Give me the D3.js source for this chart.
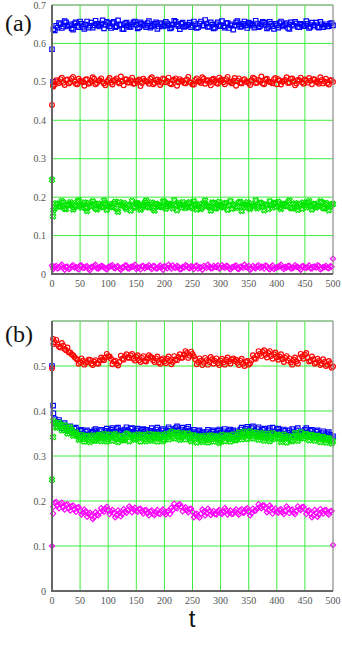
<!DOCTYPE html>
<html>
<head>
<meta charset="utf-8">
<script src="https://cdn.jsdelivr.net/npm/d3@7"></script>
<style>
  html, body { margin: 0; padding: 0; background: #fff; }
  svg { display: block; }
</style>
</head>
<body>
<svg id="chart" width="342" height="654"></svg>
<script>
// sampling times: t = 0, 2, then every 5 steps; "mid" samples sit half-way (2.5, 7.5, ...)
var times = [0, 2].concat(d3.range(5, 505, 5));
var timesMid = d3.range(2.5, 500, 5);

var xTicks = [0, 50, 100, 150, 200, 250, 300, 350, 400, 450, 500];
var yTicksA = [0, 0.1, 0.2, 0.3, 0.4, 0.5, 0.6, 0.7];
var yTicksB = [0, 0.1, 0.2, 0.3, 0.4, 0.5];

// ---- panel (a) ----
var aBlue = [0.585, 0.500,
  0.634, 0.641, 0.650, 0.644, 0.655, 0.647, 0.639, 0.652, 0.646, 0.657,
  0.643, 0.649, 0.641, 0.654, 0.647, 0.651, 0.644, 0.660, 0.648, 0.653,
  0.640, 0.656, 0.645, 0.650, 0.638, 0.652, 0.647, 0.643, 0.655, 0.649,
  0.642, 0.651, 0.646, 0.653, 0.641, 0.648, 0.655, 0.644, 0.650, 0.647,
  0.652, 0.639, 0.649, 0.656, 0.645, 0.651, 0.643, 0.648, 0.654, 0.646,
  0.650, 0.642, 0.657, 0.647, 0.652, 0.644, 0.649, 0.641, 0.655, 0.648,
  0.645, 0.653, 0.640, 0.650, 0.646, 0.658, 0.643, 0.651, 0.647, 0.654,
  0.649, 0.641, 0.652, 0.645, 0.656, 0.648, 0.643, 0.651, 0.638, 0.647,
  0.653, 0.644, 0.650, 0.640, 0.655, 0.646, 0.652, 0.642, 0.649, 0.645,
  0.651, 0.643, 0.648, 0.654, 0.641, 0.650, 0.646, 0.644, 0.652, 0.647];
var aBlueMid = [
  0.637, 0.646, 0.653, 0.640, 0.658, 0.644, 0.650, 0.636, 0.655, 0.642,
  0.651, 0.638, 0.657, 0.646, 0.641, 0.659, 0.647, 0.652, 0.639, 0.656,
  0.645, 0.653, 0.642, 0.660, 0.648, 0.637, 0.654, 0.643, 0.650, 0.657,
  0.639, 0.655, 0.648, 0.642, 0.658, 0.645, 0.651, 0.638, 0.653, 0.644,
  0.656, 0.647, 0.641, 0.659, 0.650, 0.637, 0.654, 0.645, 0.649, 0.642,
  0.657, 0.640, 0.652, 0.646, 0.661, 0.643, 0.655, 0.639, 0.650, 0.645,
  0.658, 0.641, 0.653, 0.647, 0.636, 0.655, 0.649, 0.644, 0.657, 0.640,
  0.652, 0.646, 0.659, 0.642, 0.650, 0.654, 0.639, 0.656, 0.645, 0.651,
  0.641, 0.657, 0.647, 0.653, 0.638, 0.649, 0.656, 0.643, 0.651, 0.645,
  0.658, 0.640, 0.654, 0.647, 0.643, 0.656, 0.642, 0.650, 0.645, 0.653];
var aRed = [0.440, 0.490,
  0.493, 0.500, 0.507, 0.498, 0.505, 0.496, 0.509, 0.501, 0.494, 0.503,
  0.499, 0.506, 0.495, 0.502, 0.508, 0.497, 0.504, 0.500, 0.491, 0.505,
  0.498, 0.503, 0.509, 0.496, 0.501, 0.507, 0.499, 0.504, 0.495, 0.502,
  0.506, 0.497, 0.503, 0.500, 0.508, 0.494, 0.505, 0.501, 0.498, 0.507,
  0.502, 0.496, 0.504, 0.509, 0.499, 0.503, 0.497, 0.506, 0.500, 0.493,
  0.505, 0.501, 0.497, 0.508, 0.503, 0.498, 0.506, 0.502, 0.495, 0.504,
  0.499, 0.507, 0.501, 0.496, 0.510, 0.503, 0.498, 0.505, 0.500, 0.497,
  0.504, 0.509, 0.498, 0.502, 0.496, 0.506, 0.501, 0.499, 0.507, 0.494,
  0.503, 0.500, 0.505, 0.497, 0.508, 0.502, 0.496, 0.504, 0.499, 0.506,
  0.498, 0.503, 0.507, 0.500, 0.495, 0.505, 0.501, 0.497, 0.504, 0.500];
var aRedMid = [
  0.488, 0.504, 0.497, 0.511, 0.492, 0.506, 0.499, 0.513, 0.495, 0.508,
  0.501, 0.490, 0.507, 0.497, 0.512, 0.494, 0.503, 0.509, 0.496, 0.500,
  0.510, 0.493, 0.505, 0.499, 0.514, 0.491, 0.506, 0.498, 0.511, 0.496,
  0.503, 0.489, 0.508, 0.501, 0.495, 0.512, 0.497, 0.506, 0.492, 0.509,
  0.499, 0.511, 0.494, 0.505, 0.490, 0.507, 0.502, 0.496, 0.513, 0.498,
  0.493, 0.509, 0.500, 0.512, 0.495, 0.504, 0.491, 0.508, 0.497, 0.511,
  0.506, 0.494, 0.513, 0.499, 0.503, 0.490, 0.509, 0.496, 0.507, 0.501,
  0.492, 0.511, 0.497, 0.505, 0.514, 0.494, 0.508, 0.500, 0.496, 0.510,
  0.507, 0.493, 0.502, 0.512, 0.498, 0.509, 0.491, 0.505, 0.511, 0.495,
  0.503, 0.510, 0.494, 0.506, 0.499, 0.512, 0.496, 0.508, 0.493, 0.504];
var aGreen = [0.245, 0.150,
  0.172, 0.181, 0.176, 0.186, 0.169, 0.179, 0.183, 0.174, 0.188, 0.177,
  0.180, 0.171, 0.185, 0.176, 0.182, 0.168, 0.179, 0.174, 0.184, 0.177,
  0.175, 0.183, 0.170, 0.187, 0.178, 0.173, 0.181, 0.165, 0.176, 0.184,
  0.179, 0.172, 0.186, 0.175, 0.181, 0.170, 0.183, 0.177, 0.174, 0.188,
  0.176, 0.182, 0.171, 0.179, 0.185, 0.173, 0.180, 0.175, 0.187, 0.172,
  0.181, 0.176, 0.169, 0.184, 0.178, 0.174, 0.186, 0.171, 0.180, 0.177,
  0.173, 0.185, 0.179, 0.170, 0.182, 0.176, 0.188, 0.174, 0.180, 0.172,
  0.183, 0.177, 0.171, 0.186, 0.175, 0.181, 0.169, 0.179, 0.184, 0.176,
  0.174, 0.182, 0.178, 0.187, 0.172, 0.180, 0.175, 0.183, 0.170, 0.179,
  0.185, 0.176, 0.181, 0.173, 0.178, 0.186, 0.171, 0.180, 0.175, 0.182];
var aGreenMid = [
  0.166, 0.184, 0.175, 0.190, 0.170, 0.181, 0.187, 0.168, 0.178, 0.192,
  0.173, 0.186, 0.164, 0.179, 0.189, 0.171, 0.183, 0.176, 0.191, 0.167,
  0.182, 0.174, 0.188, 0.162, 0.180, 0.185, 0.169, 0.177, 0.190, 0.172,
  0.184, 0.167, 0.179, 0.191, 0.173, 0.186, 0.165, 0.181, 0.176, 0.189,
  0.170, 0.183, 0.178, 0.192, 0.166, 0.180, 0.187, 0.172, 0.184, 0.175,
  0.189, 0.168, 0.182, 0.174, 0.191, 0.177, 0.165, 0.185, 0.171, 0.188,
  0.176, 0.183, 0.167, 0.190, 0.179, 0.172, 0.186, 0.164, 0.181, 0.187,
  0.170, 0.178, 0.192, 0.175, 0.184, 0.166, 0.180, 0.189, 0.173, 0.185,
  0.188, 0.169, 0.182, 0.176, 0.191, 0.171, 0.184, 0.167, 0.179, 0.186,
  0.174, 0.190, 0.168, 0.183, 0.177, 0.189, 0.172, 0.185, 0.166, 0.181];
var aMagenta = [0.022, 0.018,
  0.019, 0.014, 0.021, 0.016, 0.018, 0.013, 0.020, 0.017, 0.015, 0.022,
  0.016, 0.019, 0.013, 0.018, 0.021, 0.015, 0.017, 0.020, 0.014, 0.018,
  0.021, 0.016, 0.019, 0.014, 0.017, 0.022, 0.015, 0.018, 0.020, 0.013,
  0.017, 0.020, 0.015, 0.019, 0.016, 0.021, 0.014, 0.018, 0.017, 0.020,
  0.015, 0.018, 0.022, 0.016, 0.019, 0.013, 0.017, 0.021, 0.015, 0.018,
  0.020, 0.014, 0.017, 0.021, 0.016, 0.019, 0.015, 0.018, 0.022, 0.016,
  0.018, 0.021, 0.015, 0.017, 0.020, 0.014, 0.019, 0.016, 0.018, 0.021,
  0.014, 0.017, 0.020, 0.016, 0.019, 0.022, 0.015, 0.018, 0.013, 0.017,
  0.020, 0.016, 0.018, 0.021, 0.014, 0.017, 0.019, 0.015, 0.020, 0.016,
  0.018, 0.015, 0.019, 0.017, 0.021, 0.014, 0.018, 0.016, 0.020, 0.040];
var aMagentaMid = [
  0.013, 0.021, 0.017, 0.024, 0.011, 0.019, 0.015, 0.023, 0.018, 0.012,
  0.022, 0.016, 0.020, 0.010, 0.018, 0.024, 0.014, 0.021, 0.017, 0.012,
  0.019, 0.023, 0.015, 0.020, 0.011, 0.017, 0.022, 0.014, 0.019, 0.024,
  0.016, 0.012, 0.021, 0.018, 0.023, 0.013, 0.020, 0.015, 0.022, 0.011,
  0.019, 0.024, 0.014, 0.017, 0.021, 0.012, 0.018, 0.023, 0.016, 0.020,
  0.013, 0.022, 0.017, 0.011, 0.019, 0.024, 0.015, 0.021, 0.018, 0.014,
  0.023, 0.016, 0.020, 0.012, 0.018, 0.022, 0.013, 0.019, 0.024, 0.017,
  0.011, 0.021, 0.015, 0.023, 0.018, 0.014, 0.020, 0.012, 0.022, 0.016,
  0.019, 0.024, 0.013, 0.017, 0.021, 0.015, 0.023, 0.018, 0.011, 0.020,
  0.016, 0.022, 0.014, 0.019, 0.023, 0.012, 0.018, 0.021, 0.015, 0.019];

// ---- panel (b) ----
var bBlue = [0.500, 0.412,
  0.382, 0.376, 0.371, 0.368, 0.364, 0.360, 0.357, 0.361, 0.353, 0.356,
  0.350, 0.354, 0.348, 0.352, 0.357, 0.351, 0.355, 0.349, 0.356, 0.353,
  0.358, 0.354, 0.360, 0.355, 0.352, 0.359, 0.356, 0.361, 0.354, 0.357,
  0.352, 0.358, 0.355, 0.350, 0.356, 0.353, 0.359, 0.354, 0.357, 0.351,
  0.356, 0.360, 0.354, 0.362, 0.357, 0.359, 0.355, 0.361, 0.356, 0.353,
  0.350, 0.355, 0.351, 0.347, 0.353, 0.349, 0.354, 0.350, 0.356, 0.352,
  0.355, 0.351, 0.357, 0.353, 0.349, 0.355, 0.359, 0.354, 0.361, 0.357,
  0.362, 0.356, 0.360, 0.354, 0.358, 0.352, 0.357, 0.351, 0.355, 0.359,
  0.354, 0.350, 0.356, 0.352, 0.348, 0.353, 0.357, 0.351, 0.355, 0.358,
  0.352, 0.356, 0.350, 0.354, 0.348, 0.351, 0.346, 0.350, 0.347, 0.344];
var bBlueMid = [
  0.395, 0.372, 0.380, 0.362, 0.373, 0.356, 0.366, 0.351, 0.363, 0.347,
  0.358, 0.345, 0.357, 0.346, 0.354, 0.360, 0.346, 0.358, 0.347, 0.361,
  0.350, 0.362, 0.349, 0.363, 0.357, 0.348, 0.364, 0.351, 0.362, 0.350,
  0.361, 0.347, 0.360, 0.358, 0.346, 0.362, 0.349, 0.363, 0.348, 0.360,
  0.349, 0.364, 0.352, 0.357, 0.366, 0.351, 0.363, 0.354, 0.365, 0.349,
  0.358, 0.345, 0.357, 0.353, 0.344, 0.358, 0.346, 0.357, 0.345, 0.359,
  0.347, 0.360, 0.348, 0.359, 0.357, 0.346, 0.352, 0.363, 0.350, 0.365,
  0.352, 0.366, 0.351, 0.364, 0.349, 0.361, 0.347, 0.362, 0.363, 0.350,
  0.361, 0.347, 0.359, 0.345, 0.357, 0.360, 0.346, 0.362, 0.349, 0.351,
  0.362, 0.347, 0.358, 0.345, 0.357, 0.343, 0.355, 0.342, 0.353, 0.340];
var bRed = [0.495, 0.560,
  0.553, 0.548, 0.541, 0.545, 0.535, 0.530, 0.526, 0.520, 0.514, 0.509,
  0.512, 0.507, 0.514, 0.505, 0.510, 0.506, 0.512, 0.515, 0.519, 0.522,
  0.516, 0.510, 0.505, 0.509, 0.516, 0.522, 0.519, 0.524, 0.516, 0.520,
  0.513, 0.518, 0.511, 0.516, 0.520, 0.513, 0.517, 0.508, 0.514, 0.510,
  0.516, 0.511, 0.509, 0.515, 0.520, 0.518, 0.525, 0.529, 0.523, 0.527,
  0.515, 0.509, 0.512, 0.507, 0.513, 0.509, 0.515, 0.511, 0.506, 0.512,
  0.508, 0.514, 0.510, 0.515, 0.511, 0.507, 0.512, 0.505, 0.509, 0.503,
  0.512, 0.518, 0.523, 0.527, 0.531, 0.525, 0.529, 0.522, 0.526, 0.519,
  0.521, 0.515, 0.518, 0.512, 0.508, 0.514, 0.510, 0.517, 0.521, 0.525,
  0.518, 0.512, 0.515, 0.508, 0.511, 0.505, 0.509, 0.503, 0.506, 0.499];
var bRedMid = [
  0.549, 0.558, 0.543, 0.551, 0.538, 0.541, 0.530, 0.524, 0.517, 0.505,
  0.517, 0.503, 0.509, 0.514, 0.502, 0.513, 0.505, 0.519, 0.513, 0.527,
  0.521, 0.504, 0.512, 0.501, 0.523, 0.514, 0.526, 0.518, 0.527, 0.512,
  0.524, 0.509, 0.522, 0.510, 0.524, 0.519, 0.509, 0.521, 0.505, 0.517,
  0.506, 0.521, 0.504, 0.522, 0.513, 0.526, 0.519, 0.533, 0.518, 0.532,
  0.521, 0.504, 0.517, 0.502, 0.518, 0.503, 0.520, 0.505, 0.517, 0.502,
  0.516, 0.503, 0.519, 0.505, 0.517, 0.514, 0.502, 0.516, 0.500, 0.511,
  0.506, 0.524, 0.516, 0.533, 0.522, 0.535, 0.519, 0.533, 0.516, 0.530,
  0.514, 0.526, 0.509, 0.522, 0.517, 0.503, 0.519, 0.505, 0.527, 0.516,
  0.529, 0.510, 0.521, 0.505, 0.516, 0.502, 0.515, 0.500, 0.511, 0.496];
var bGreen = [0.247, 0.342,
  0.372, 0.366, 0.369, 0.360, 0.363, 0.355, 0.358, 0.350, 0.346, 0.341,
  0.338, 0.344, 0.336, 0.342, 0.335, 0.340, 0.346, 0.339, 0.343, 0.337,
  0.341, 0.345, 0.338, 0.343, 0.336, 0.340, 0.347, 0.342, 0.339, 0.344,
  0.340, 0.345, 0.338, 0.342, 0.336, 0.341, 0.346, 0.339, 0.343, 0.337,
  0.342, 0.348, 0.343, 0.350, 0.345, 0.341, 0.347, 0.344, 0.339, 0.345,
  0.338, 0.342, 0.335, 0.340, 0.336, 0.341, 0.337, 0.343, 0.339, 0.334,
  0.340, 0.344, 0.338, 0.342, 0.336, 0.341, 0.347, 0.343, 0.349, 0.345,
  0.350, 0.344, 0.348, 0.342, 0.346, 0.340, 0.345, 0.339, 0.343, 0.347,
  0.341, 0.337, 0.343, 0.339, 0.335, 0.341, 0.345, 0.340, 0.344, 0.348,
  0.342, 0.346, 0.340, 0.344, 0.338, 0.341, 0.336, 0.339, 0.335, 0.333];
var bGreenMid = [
  0.378, 0.363, 0.374, 0.357, 0.368, 0.350, 0.364, 0.345, 0.353, 0.336,
  0.347, 0.332, 0.345, 0.331, 0.346, 0.334, 0.347, 0.333, 0.349, 0.332,
  0.348, 0.334, 0.349, 0.331, 0.345, 0.335, 0.350, 0.333, 0.346, 0.336,
  0.348, 0.332, 0.347, 0.333, 0.349, 0.334, 0.348, 0.332, 0.347, 0.333,
  0.349, 0.337, 0.354, 0.339, 0.352, 0.336, 0.351, 0.337, 0.350, 0.333,
  0.346, 0.330, 0.344, 0.331, 0.345, 0.330, 0.346, 0.332, 0.344, 0.329,
  0.347, 0.333, 0.346, 0.332, 0.348, 0.335, 0.352, 0.337, 0.354, 0.338,
  0.355, 0.339, 0.352, 0.336, 0.351, 0.334, 0.350, 0.333, 0.351, 0.338,
  0.347, 0.331, 0.348, 0.330, 0.344, 0.333, 0.351, 0.334, 0.353, 0.339,
  0.349, 0.335, 0.347, 0.334, 0.345, 0.331, 0.343, 0.330, 0.340, 0.328];
var bMagenta = [0.100, 0.172,
  0.196, 0.190, 0.193, 0.186, 0.191, 0.184, 0.188, 0.181, 0.185, 0.178,
  0.174, 0.177, 0.171, 0.168, 0.164, 0.170, 0.175, 0.179, 0.183, 0.180,
  0.176, 0.173, 0.169, 0.174, 0.171, 0.177, 0.180, 0.184, 0.181, 0.178,
  0.182, 0.176, 0.179, 0.173, 0.177, 0.171, 0.175, 0.172, 0.178, 0.174,
  0.176, 0.171, 0.180, 0.186, 0.191, 0.187, 0.183, 0.179, 0.182, 0.176,
  0.170, 0.166, 0.172, 0.176, 0.173, 0.178, 0.174, 0.171, 0.177, 0.173,
  0.176, 0.180, 0.175, 0.171, 0.177, 0.173, 0.179, 0.174, 0.181, 0.176,
  0.173, 0.178, 0.183, 0.187, 0.190, 0.184, 0.180, 0.185, 0.179, 0.176,
  0.180, 0.175, 0.178, 0.183, 0.179, 0.174, 0.178, 0.182, 0.186, 0.181,
  0.177, 0.172, 0.168, 0.174, 0.170, 0.176, 0.179, 0.173, 0.177, 0.102];
var bMagentaMid = [
  0.187, 0.198, 0.184, 0.196, 0.181, 0.193, 0.179, 0.190, 0.176, 0.186,
  0.170, 0.181, 0.165, 0.174, 0.160, 0.175, 0.168, 0.184, 0.176, 0.187,
  0.171, 0.180, 0.164, 0.179, 0.166, 0.182, 0.174, 0.188, 0.175, 0.185,
  0.176, 0.183, 0.172, 0.180, 0.168, 0.179, 0.169, 0.180, 0.171, 0.181,
  0.170, 0.178, 0.185, 0.194, 0.184, 0.193, 0.177, 0.186, 0.175, 0.183,
  0.164, 0.172, 0.163, 0.181, 0.168, 0.183, 0.169, 0.178, 0.170, 0.180,
  0.171, 0.184, 0.170, 0.179, 0.172, 0.181, 0.170, 0.182, 0.175, 0.184,
  0.168, 0.183, 0.179, 0.193, 0.184, 0.190, 0.175, 0.190, 0.172, 0.183,
  0.174, 0.182, 0.171, 0.188, 0.173, 0.181, 0.171, 0.188, 0.180, 0.187,
  0.171, 0.179, 0.164, 0.180, 0.165, 0.182, 0.172, 0.180, 0.170, 0.178];

var svg = d3.select("#chart");
var gridColor = "#3ded3d";
var serif = "'Liberation Serif', 'Times New Roman', serif";

function drawPanel(opt) {
  var x = d3.scaleLinear().domain([0, 500]).range([opt.left, opt.right]);
  var y = d3.scaleLinear().domain([0, opt.yMax]).range([opt.bottom, opt.top]);
  var g = svg.append("g");

  // grid
  g.selectAll(".vgrid").data(xTicks.slice(1, -1)).enter().append("line")
    .attr("x1", function(d) { return x(d); }).attr("x2", function(d) { return x(d); })
    .attr("y1", opt.top).attr("y2", opt.bottom)
    .attr("stroke", gridColor).attr("stroke-width", 1);
  g.selectAll(".hgrid").data(opt.yTicks.slice(1)).enter().append("line")
    .attr("x1", opt.left).attr("x2", opt.right)
    .attr("y1", function(d) { return y(d); }).attr("y2", function(d) { return y(d); })
    .attr("stroke", gridColor).attr("stroke-width", 1);

  // series (main samples interleaved with mid samples)
  opt.series.forEach(function(s) {
    var pts = s.values.map(function(v, i) { return [times[i], v]; })
      .concat(s.mid.map(function(v, i) { return [timesMid[i], v]; }));
    pts.sort(function(a, b) { return a[0] - b[0]; });
    var sg = g.append("g").attr("fill", "none").attr("stroke", s.color).attr("stroke-width", 1.15);
    var sym = d3.symbol().type(s.shape).size(s.size);
    sg.selectAll("path").data(pts).enter().append("path")
      .attr("transform", function(d) {
        return "translate(" + x(d[0]) + "," + y(d[1]) + ")" + (s.rotate ? " rotate(45)" : "");
      })
      .attr("d", sym);
  });

  // frame
  g.append("line").attr("x1", opt.left).attr("x2", opt.right).attr("y1", opt.top).attr("y2", opt.top)
    .attr("stroke", "#a0a0a0").attr("stroke-width", 1);
  g.append("line").attr("x1", opt.right).attr("x2", opt.right).attr("y1", opt.top).attr("y2", opt.bottom)
    .attr("stroke", "#8a8a8a").attr("stroke-width", 1.2);
  g.append("line").attr("x1", opt.left).attr("x2", opt.left).attr("y1", opt.top).attr("y2", opt.bottom + 1)
    .attr("stroke", "#666").attr("stroke-width", 2);
  g.append("line").attr("x1", opt.left - 1).attr("x2", opt.right).attr("y1", opt.bottom).attr("y2", opt.bottom)
    .attr("stroke", "#666").attr("stroke-width", 2);

  // tick labels
  g.selectAll(".ylab").data(opt.yLabels).enter().append("text")
    .attr("x", opt.left - 6).attr("y", function(d) { return y(d); })
    .attr("dy", "0.35em").attr("text-anchor", "end")
    .attr("font-family", serif)
    .attr("font-size", 10).attr("fill", "#555")
    .text(function(d) { return d === 0 ? "0" : d3.format(".1f")(d); });
  g.selectAll(".xlab").data(xTicks).enter().append("text")
    .attr("x", function(d) { return x(d); }).attr("y", opt.bottom + 13)
    .attr("text-anchor", "middle")
    .attr("font-family", serif)
    .attr("font-size", 10).attr("fill", "#555")
    .text(function(d) { return d; });

  // panel label
  svg.append("text").attr("x", 5).attr("y", opt.labelY)
    .attr("font-family", serif)
    .attr("font-size", 24).attr("fill", "#111")
    .text(opt.label);
}

function seriesSet(blue, blueMid, red, redMid, green, greenMid, magenta, magentaMid) {
  return [
    { values: blue, mid: blueMid, color: "#0000ff", shape: d3.symbolSquare, size: 20 },
    { values: red, mid: redMid, color: "#ff0000", shape: d3.symbolCircle, size: 18 },
    { values: green, mid: greenMid, color: "#00e600", shape: d3.symbolCross, size: 18, rotate: true },
    { values: magenta, mid: magentaMid, color: "#ff00ff", shape: d3.symbolSquare, size: 14, rotate: true }
  ];
}

drawPanel({
  left: 52, right: 333, top: 5, bottom: 274, yMax: 0.7,
  yTicks: yTicksA, yLabels: yTicksA, label: "(a)", labelY: 31,
  series: seriesSet(aBlue, aBlueMid, aRed, aRedMid, aGreen, aGreenMid, aMagenta, aMagentaMid)
});

drawPanel({
  left: 52, right: 333, top: 321, bottom: 591, yMax: 0.6,
  yTicks: yTicksB.concat([0.6]), yLabels: yTicksB, label: "(b)", labelY: 342,
  series: seriesSet(bBlue, bBlueMid, bRed, bRedMid, bGreen, bGreenMid, bMagenta, bMagentaMid)
});

svg.append("text").attr("x", 192).attr("y", 627)
  .attr("text-anchor", "middle")
  .attr("font-family", "'Liberation Sans', Arial, sans-serif")
  .attr("font-size", 24).attr("fill", "#111")
  .text("t");
</script>
</body>
</html>
